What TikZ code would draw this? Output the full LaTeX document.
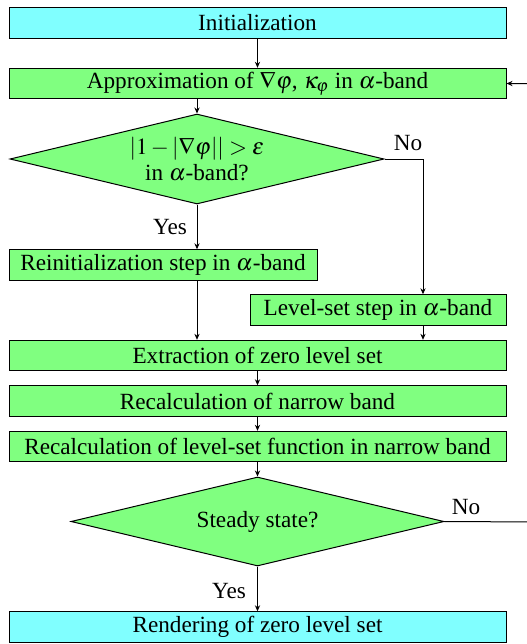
\documentclass[tikz,border=0pt]{standalone}
\usepackage{mathptmx}
\usepackage[no-math]{fontspec}
\setmainfont{Liberation Serif}
\usepackage{tikz}
\usetikzlibrary{shapes.geometric,arrows.meta}
\definecolor{boxcyan}{RGB}{128,255,255}
\definecolor{boxgreen}{RGB}{128,255,128}

\begin{document}
\begin{tikzpicture}[x=0.5pt,y=-0.5pt,
  font=\fontsize{11.6}{13}\selectfont,
  every path/.style={line width=0.5pt},
  arr/.style={-{Stealth[length=3pt,width=2.6pt]}},
  wide/.style={draw,rectangle,inner sep=0pt,minimum width=248.5pt,minimum height=15.2pt},
  stepbox/.style={draw,rectangle,inner sep=0pt,minimum height=15.2pt,fill=boxgreen},
  decide/.style={draw,diamond,aspect=4.15,inner sep=0pt,fill=boxgreen,align=center}]
\useasboundingbox (0,0) rectangle (526,644);

\node [wide,fill=boxcyan] (init) at (257.5,23) {Initialization};
\node [wide,fill=boxgreen] (approx) at (257.5,83.5) {Approximation of $\nabla\varphi$, $\kappa_\varphi$ in $\alpha$-band};
\node [decide,minimum width=187pt,minimum height=45pt] (check) at (197,159) {$|1-|\nabla\varphi||>\varepsilon$\\ in $\alpha$-band?};
\node [stepbox,minimum width=154pt] (reinit) at (163,265) {Reinitialization step in $\alpha$-band};
\node [stepbox,minimum width=128pt] (lsstep) at (378,310) {Level-set step in $\alpha$-band};
\node [wide,fill=boxgreen] (extract) at (257.5,355.5) {Extraction of zero level set};
\node [wide,fill=boxgreen] (band) at (257.5,401) {Recalculation of narrow band};
\node [wide,fill=boxgreen] (recalc) at (257.5,446.5) {Recalculation of level-set function in narrow band};
\node [decide,minimum width=186.5pt,minimum height=44.5pt] (steady) at (257.5,521.5) {Steady state?};
\node [wide,fill=boxcyan] (render) at (257.5,627) {Rendering of zero level set};

\coordinate (nocorner) at (423,159); \coordinate (loopr) at (540,522);

\draw [arr] (init) -- (approx);
\draw [arr] (approx.south -| check.north) -- (check.north);
\draw [arr] (check.south) -- (check.south |- reinit.north); \node (yes1) at (170,227) {Yes};
\draw [arr] (check.east) -- (nocorner) -- (nocorner |- lsstep.north); \node (no1) at (408,143) {No};
\draw [arr] (check.south |- reinit.south) -- (check.south |- extract.north);
\draw [arr] (nocorner |- lsstep.south) -- (nocorner |- extract.north);
\draw [arr] (extract) -- (band);
\draw [arr] (band) -- (recalc);
\draw [arr] (recalc) -- (steady);
\draw [arr] (steady) -- (render); \node (yes2) at (229,591) {Yes};
\draw [arr] (steady.east) -- (loopr) |- (approx.east); \node (no2) at (466,507) {No};

\end{tikzpicture}
\end{document}
